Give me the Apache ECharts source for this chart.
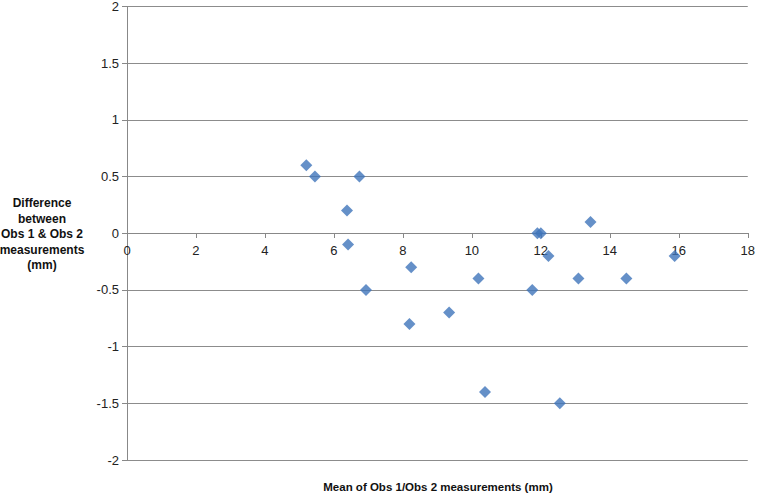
<!DOCTYPE html>
<html><head><meta charset="utf-8">
<script src="https://cdn.jsdelivr.net/npm/echarts@6/dist/echarts.min.js"></script>
<style>html,body{margin:0;padding:0;background:#fff}#c{width:758px;height:493px}</style>
</head><body><div id="c"></div>
<script>
const meanValues = [5.20, 5.45, 6.74, 6.38, 6.41, 6.93, 8.24, 8.19, 9.34, 10.19, 10.38, 11.75, 11.90, 12.00, 12.22, 12.55, 13.09, 13.44, 14.48, 15.88];
const diffValues = [0.6, 0.5, 0.5, 0.2, -0.1, -0.5, -0.3, -0.8, -0.7, -0.4, -1.4, -0.5, 0, 0, -0.2, -1.5, -0.4, 0.1, -0.4, -0.2];
const xTitle = 'Mean of Obs 1/Obs 2 measurements (mm)';
const yTitle = 'Difference\nbetween\nObs 1 & Obs 2\nmeasurements\n(mm)';

const chart = echarts.init(document.getElementById('c'), null, {renderer: 'svg'});
const font = '"Liberation Sans", "Open Sans", sans-serif';
chart.setOption({
  animation: false,
  grid: {left: 127, right: 9, top: 6, bottom: 33},
  xAxis: {
    type: 'value', min: 0, max: 18, interval: 2,
    position: 'bottom', offset: -227,
    axisLine: {onZero: false, lineStyle: {color: '#888', width: 1}},
    axisTick: {show: true, length: 5, lineStyle: {color: '#888'}},
    axisLabel: {color: '#222', fontSize: 13, fontFamily: font, margin: 11},
    splitLine: {show: false}
  },
  yAxis: {
    type: 'value', min: -2, max: 2, interval: 0.5,
    axisLine: {show: true, lineStyle: {color: '#888', width: 1}},
    axisTick: {show: true, length: 5, lineStyle: {color: '#888'}},
    axisLabel: {color: '#222', fontSize: 13, fontFamily: font, margin: 8},
    splitLine: {show: true, lineStyle: {color: '#8c8c8c', width: 1}}
  },
  series: [{
    type: 'scatter',
    data: meanValues.map((m, i) => [m, diffValues[i]]),
    symbol: 'path://M0,-1L1,0L0,1L-1,0Z',
    symbolSize: [12, 12],
    itemStyle: {color: '#3f74ba'}
  }],
  graphic: [
    {type: 'text', x: 438, y: 487, style: {text: xTitle, font: 'bold 11.5px ' + font, fill: '#111', align: 'center', verticalAlign: 'middle'}},
    {type: 'text', x: 42, y: 234, style: {text: yTitle, font: 'bold 12px ' + font, fill: '#111', align: 'center', verticalAlign: 'middle', lineHeight: 15.5}}
  ]
});
</script></body></html>
